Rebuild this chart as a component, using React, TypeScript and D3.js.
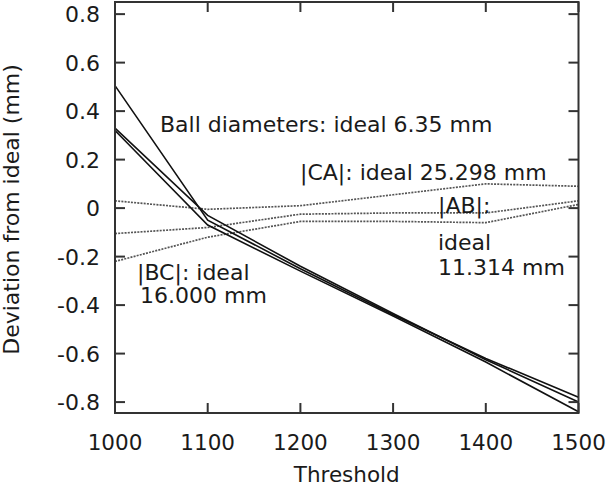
import React from "react";
import * as d3 from "d3";

const thresholds = [1000, 1100, 1200, 1300, 1400, 1500];
const ballDiam1 = [0.505, -0.05, -0.25, -0.44, -0.62, -0.78];
const ballDiam2 = [0.33, -0.03, -0.24, -0.435, -0.625, -0.8];
const ballDiam3 = [0.32, -0.07, -0.26, -0.445, -0.635, -0.84];
const distCA = [0.03, -0.005, 0.01, 0.055, 0.1, 0.09];
const distAB = [-0.105, -0.08, -0.025, -0.02, -0.02, 0.03];
const distBC = [-0.22, -0.12, -0.055, -0.055, -0.06, 0.015];
const xTicks = [1000, 1100, 1200, 1300, 1400, 1500];
const yTicks = [0.8, 0.6, 0.4, 0.2, 0, -0.2, -0.4, -0.6, -0.8];

const W = 609;
const H = 488;
const L = 115;
const R = 578.5;
const T = 2;
const B = 413;
const FONT = "'DejaVu Sans', sans-serif";

export default function App() {
  const x = d3.scaleLinear().domain([1000, 1500]).range([L, R]);
  const y = d3.scaleLinear().domain([-0.845, 0.85]).range([B, T]);
  const line = d3
    .line<number>()
    .x((_, i) => x(thresholds[i]))
    .y((v) => y(v));
  const solid = [ballDiam1, ballDiam2, ballDiam3];
  const dotted = [distCA, distAB, distBC];
  const tc = "#1a1a1a";
  const fmtY = (v: number) => (v === 0 ? "0" : v.toFixed(1));
  return (
    <svg
      width={W}
      height={H}
      style={{ position: "fixed", left: 0, top: 0, background: "#fff" }}
      fontFamily={FONT}
    >
      <rect x={0} y={0} width={W} height={H} fill="#fff" />
      {dotted.map((d, i) => (
        <path
          key={"d" + i}
          d={line(d) || ""}
          fill="none"
          stroke="#555"
          strokeWidth={1.7}
          strokeDasharray="2 1.2"
        />
      ))}
      {solid.map((d, i) => (
        <path
          key={"s" + i}
          d={line(d) || ""}
          fill="none"
          stroke="#111"
          strokeWidth={1.6}
        />
      ))}
      <rect x={L} y={T} width={R - L} height={B - T} fill="none" stroke="#333" strokeWidth={2} />
      {yTicks.map((t) => (
        <g key={"yt" + t}>
          <line x1={L} x2={L + 10} y1={y(t)} y2={y(t)} stroke="#333" strokeWidth={2} />
          <line x1={R} x2={R - 10} y1={y(t)} y2={y(t)} stroke="#333" strokeWidth={2} />
          <text x={100} y={y(t)} dy="0.36em" textAnchor="end" fontSize={22} fill={tc}>
            {fmtY(t)}
          </text>
        </g>
      ))}
      {xTicks.map((t) => (
        <g key={"xt" + t}>
          <line x1={x(t)} x2={x(t)} y1={B} y2={B - 10} stroke="#333" strokeWidth={2} />
          <line x1={x(t)} x2={x(t)} y1={T} y2={T + 10} stroke="#333" strokeWidth={2} />
          <text x={x(t)} y={450} textAnchor="middle" fontSize={21.5} fill={tc}>
            {t}
          </text>
        </g>
      ))}
      <text x={(L + R) / 2} y={482} textAnchor="middle" fontSize={21.5} fill={tc}>
        Threshold
      </text>
      <text
        transform={`translate(19, ${(T + B) / 2 + 2}) rotate(-90)`}
        textAnchor="middle"
        fontSize={22}
        fill={tc}
      >
        Deviation from ideal (mm)
      </text>
      <text x={160} y={132} fontSize={22} fill={tc}>
        Ball diameters: ideal 6.35 mm
      </text>
      <text x={300} y={180} fontSize={22} fill={tc}>
        |CA|: ideal 25.298 mm
      </text>
      <text x={438} y={213} fontSize={22} fill={tc}>
        |AB|:
      </text>
      <text x={438} y={250} fontSize={22} fill={tc}>
        ideal
      </text>
      <text x={438} y={275} fontSize={22} fill={tc}>
        11.314 mm
      </text>
      <text x={137} y={280} fontSize={22} fill={tc}>
        |BC|: ideal
      </text>
      <text x={140} y={303} fontSize={22} fill={tc}>
        16.000 mm
      </text>
    </svg>
  );
}
